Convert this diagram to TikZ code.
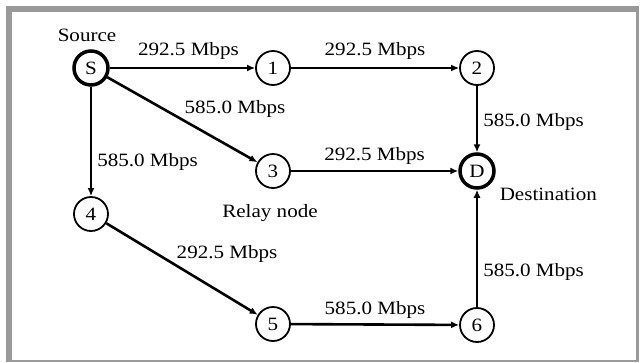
\documentclass[tikz,border=0pt]{standalone}
\usepackage{fontspec}
\setmainfont{Liberation Serif}[FakeStretch=1.12]
\usetikzlibrary{arrows.meta,positioning}
\definecolor{framegray}{RGB}{153,153,153}

\begin{document}
\begin{tikzpicture}[x=1pt,y=-1pt,every node/.style={font=\fontsize{18.8}{22}\selectfont},
  relay/.style={circle,draw,line width=1.8pt,minimum size=34pt,inner sep=0pt},
  endpoint/.style={relay,line width=3.5pt},
  link/.style={line width=2.6pt,-{Latex[length=8pt,width=7pt]}},
  rate/.style={inner sep=1pt}]
\useasboundingbox (0,0) rectangle (640,362);
\fill[framegray] (6,6) rectangle (639,362);
\fill[white] (12,12) rectangle (636,360);

\node[endpoint] (S) at (91,68) {S};
\node[relay] (n1) at (273,68) {1};
\node[relay] (n2) at (477,68) {2};
\node[relay] (n3) at (273,171) {3};
\node[endpoint] (D) at (477,171) {D};
\node[relay] (n4) at (91,214) {4};
\node[relay] (n5) at (273,324) {5};
\node[relay] (n6) at (477,325) {6};

\node[above=4pt of S,xshift=-4pt] (SourceLabel) {Source};
\node[below=12pt of n3,xshift=-3pt] (RelayLabel) {Relay node};
\node[below right=0pt and 6pt of D] (DestLabel) {Destination};

\draw[link] (S) -- node[above=6pt,xshift=6pt,rate] (rateS1) {292.5 Mbps} (n1);
\draw[link] (n1) -- node[above=6pt,rate] (rate12) {292.5 Mbps} (n2);
\draw[link] (S) -- node[pos=0.5,above right,rate] (rateS3) {585.0 Mbps} (n3);
\draw[link] (S) -- node[pos=0.69,right=4pt,rate] (rateS4) {585.0 Mbps} (n4);
\draw[link] (n2) -- node[pos=0.55,right=4pt,rate] (rate2D) {585.0 Mbps} (D);
\draw[link] (n3) -- node[above=4pt,rate] (rate3D) {292.5 Mbps} (D);
\draw[link] (n4) -- node[pos=0.45,above right,rate] (rate45) {292.5 Mbps} (n5);
\draw[link] (n5) -- node[above=4pt,rate] (rate56) {585.0 Mbps} (n6);
\draw[link] (n6) -- node[pos=0.3,right=4pt,rate] (rate6D) {585.0 Mbps} (D);
\end{tikzpicture}
\end{document}
